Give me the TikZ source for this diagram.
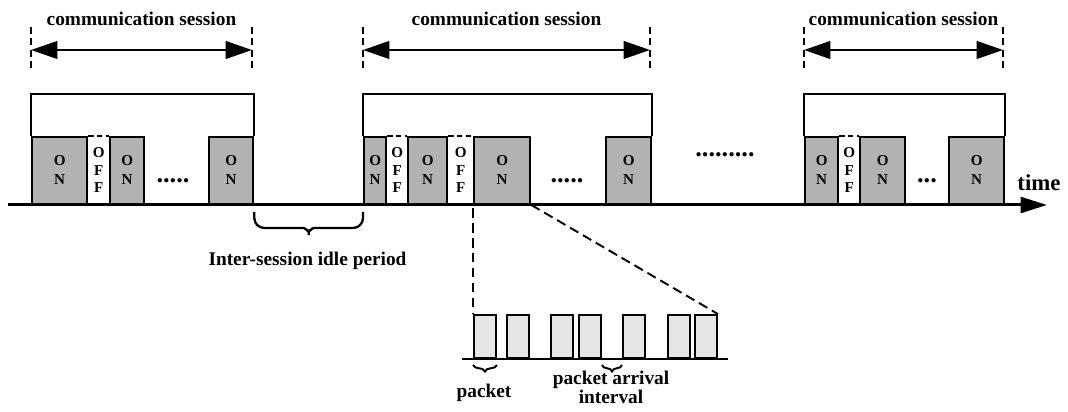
\documentclass[tikz,border=0pt]{standalone}
\usepackage{fontspec}
\setmainfont{Liberation Serif}
\usetikzlibrary{arrows.meta, positioning, calc, decorations.pathreplacing}

\begin{document}
\begin{tikzpicture}[
    onbox/.style={draw, line width=1.3pt, fill=black!30, minimum height=1.34cm, anchor=south west, inner sep=0pt, align=center, font=\fontsize{8.6}{10.8}\selectfont\bfseries},
    offtxt/.style={align=center, inner sep=0pt, font=\fontsize{8.6}{10}\selectfont\bfseries},
    pkt/.style={draw, line width=1.1pt, fill=black!10, minimum height=0.86cm, minimum width=0.44cm, anchor=south west, inner sep=0pt},
    offtop/.style={line width=1.3pt, dash pattern=on 3pt off 2pt},
    frame/.style={line width=1.3pt},
    guide/.style={line width=1.1pt, dash pattern=on 4pt off 2.5pt},
    zoomline/.style={line width=1.1pt, dash pattern=on 5.5pt off 3pt},
    span/.style={line width=1.4pt, {Triangle[length=15pt,width=10pt]}-{Triangle[length=15pt,width=10pt]}},
    lbl/.style={font=\fontsize{11}{9.5}\selectfont\bfseries, align=center, inner sep=0pt},
    dots/.style={font=\fontsize{15}{15}\selectfont\bfseries, inner sep=0pt},
    gapbrace/.style={line width=1.3pt, rounded corners=0.2cm},
    smallbrace/.style={line width=1.1pt, decorate, decoration={brace, mirror, amplitude=0.13cm}},
  ]
    \useasboundingbox (0,0) rectangle (21.36,8.24);

    % 时间轴
    \coordinate (t0) at (0.16,4.14);
    \coordinate (t1) at (20.94,4.14);

    % 第一个会话
    \node[onbox, minimum width=1.10cm] (s1on1) at (0.62,4.14) {O\\N};
    \node[onbox, minimum width=0.68cm] (s1on2) at (2.18,4.14) {O\\N};
    \node[onbox, minimum width=0.88cm] (s1on3) at (4.16,4.14) {O\\N};
    \node[offtxt] (s1off1) at ($(s1on1.east)!0.5!(s1on2.west)$) {O\\F\\F};
    \node[dots] (s1dots) at (3.46,4.62) {.....};
    \draw[offtop] (s1on1.north east) -- (s1on2.north west);
    \draw[frame] (s1on1.north west) -- ++(0,0.84) -| (s1on3.north east);

    % 第二个会话
    \node[onbox, minimum width=0.44cm] (s2on1) at (7.26,4.14) {O\\N};
    \node[onbox, minimum width=0.78cm] (s2on2) at (8.14,4.14) {O\\N};
    \node[onbox, minimum width=1.12cm] (s2on3) at (9.46,4.14) {O\\N};
    \node[onbox, minimum width=0.90cm] (s2on4) at (12.10,4.14) {O\\N};
    \node[offtxt] (s2off1) at ($(s2on1.east)!0.5!(s2on2.west)$) {O\\F\\F};
    \node[offtxt] (s2off2) at ($(s2on2.east)!0.5!(s2on3.west)$) {O\\F\\F};
    \node[dots] (s2dots) at (11.34,4.62) {.....};
    \draw[offtop] (s2on1.north east) -- (s2on2.north west);
    \draw[offtop] (s2on2.north east) -- (s2on3.north west);
    \draw[frame] (s2on1.north west) -- ++(0,0.84) -| (s2on4.north east);

    \node[dots] (middots) at (14.50,5.14) {.........};

    % 第三个会话
    \node[onbox, minimum width=0.66cm] (s3on1) at (16.08,4.14) {O\\N};
    \node[onbox, minimum width=0.90cm] (s3on2) at (17.18,4.14) {O\\N};
    \node[onbox, minimum width=1.10cm] (s3on3) at (18.96,4.14) {O\\N};
    \node[offtxt] (s3off1) at ($(s3on1.east)!0.5!(s3on2.west)$) {O\\F\\F};
    \node[dots] (s3dots) at (18.54,4.62) {...};
    \draw[offtop] (s3on1.north east) -- (s3on2.north west);
    \draw[frame] (s3on1.north west) -- ++(0,0.84) -| (s3on3.north east);

    \draw[line width=1.7pt, -{Triangle[length=15pt,width=9pt]}] (t0) -- (t1);
    \node[font=\fontsize{13}{13}\selectfont\bfseries] (tlbl) at (20.78,4.58) {time};

    % 会话时长标注
    \coordinate (s1l) at (0.62,7.24);
    \coordinate (s1r) at (5.04,7.24);
    \coordinate (s2l) at (7.26,7.24);
    \coordinate (s2r) at (13.00,7.24);
    \coordinate (s3l) at (16.08,7.24);
    \coordinate (s3r) at (20.06,7.24);
    \foreach \p in {s1l, s1r, s2l, s2r, s3l, s3r}
      \draw[guide] ($(\p)+(0,0.46)$) -- ($(\p)+(0,-0.44)$);
    \draw[span] (s1l) -- (s1r);
    \draw[span] (s2l) -- (s2r);
    \draw[span] (s3l) -- (s3r);
    \node[lbl] (s1txt) at ($(s1l)!0.5!(s1r)+(0,0.63)$) {communication session};
    \node[lbl] (s2txt) at ($(s2l)!0.5!(s2r)+(0,0.63)$) {communication session};
    \node[lbl] (s3txt) at ($(s3l)!0.5!(s3r)+(0,0.63)$) {communication session};

    % 会话间空闲期
    \coordinate (gapl) at ($(s1on3.south east)+(0,-0.14)$);
    \coordinate (gapr) at ($(s2on1.south west)+(0,-0.14)$);
    \coordinate (gaptip) at ($(gapl)!0.5!(gapr)+(0,-0.58)$);
    \draw[gapbrace] (gapl) |- ($(gaptip)+(-0.3,0.26)$)
      .. controls ($(gaptip)+(-0.06,0.26)$) and ($(gaptip)+(0,0.16)$) .. (gaptip)
      .. controls ($(gaptip)+(0,0.16)$) and ($(gaptip)+(0.06,0.26)$) .. ($(gaptip)+(0.3,0.26)$) -| (gapr);
    \node[lbl] (idle) at (6.15,3.03) {Inter-session idle period};

    % 数据包放大
    \node[pkt] (pk1) at (9.46,1.06) {};
    \node[pkt] (pk2) at (10.12,1.06) {};
    \node[pkt] (pk3) at (11.00,1.06) {};
    \node[pkt] (pk4) at (11.56,1.06) {};
    \node[pkt] (pk5) at (12.44,1.06) {};
    \node[pkt] (pk6) at (13.34,1.06) {};
    \node[pkt] (pk7) at (13.88,1.06) {};
    \draw[line width=1.3pt] (9.24,1.06) -- (14.56,1.06);

    \draw[zoomline] ($(s2on3.south west)+(0,-0.06)$) -- (pk1.north west);
    \draw[zoomline] (s2on3.south east) -- (pk7.north east);

    \draw[smallbrace] ($(pk1.south west)+(0,-0.12)$) -- ($(pk1.south east)+(0,-0.12)$);
    \draw[smallbrace] ($(pk4.south east)+(0,-0.12)$) -- ($(pk5.south west)+(0,-0.12)$);
    \node[lbl] (pktxt) at (9.68,0.38) {packet};
    \node[lbl] (ivtxt) at (12.22,0.49) {packet arrival\\interval};
  \end{tikzpicture}
\end{document}
